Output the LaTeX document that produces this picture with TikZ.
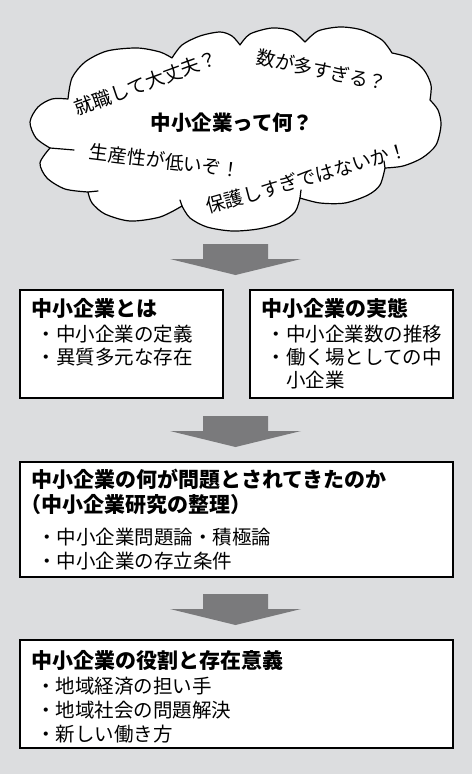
\documentclass[tikz,border=0pt]{standalone}
\usepackage{fontspec}
\newfontfamily\jpfont{Noto Sans CJK JP}
\usetikzlibrary{positioning, calc}
\definecolor{bggray}{HTML}{DCDDDF}
\definecolor{arrowgray}{HTML}{7A7A7C}
\tikzset{
  infobox/.style={draw=black, line width=1.8bp, fill=white, anchor=north west, inner sep=0pt},
  boxtitle/.style={anchor=west, inner sep=0pt, font=\jpfont\bfseries\fontsize{21bp}{25bp}\selectfont},
  boxitem/.style={anchor=west, inner sep=0pt, font=\jpfont\fontsize{19.5bp}{24bp}\selectfont},
  cloudtext/.style={inner sep=0pt, font=\jpfont\fontsize{19bp}{23bp}\selectfont},
  cloudline/.style={draw=black, line width=1.2bp, line join=round, line cap=round}
}
\begin{document}
\begin{tikzpicture}[x=1bp, y=1bp]
% Background, fixes the page size
\fill[bggray] (0,0) rectangle (472,-774);
\useasboundingbox (0,0) rectangle (472,-774);
% Cloud — one smooth bump between each pair of junctions
\filldraw[cloudline, fill=white]
  plot[smooth] coordinates {(50,-148) (36,-138) (30,-122) (38,-107) (52,-99) (68,-99)}
  -- plot[smooth] coordinates {(68,-99) (72,-78) (85,-62) (107,-51) (137,-48) (160,-52) (172,-58)}
  -- plot[smooth] coordinates {(172,-58) (182,-45) (200,-36) (220,-32) (232,-36) (240,-45)}
  -- plot[smooth] coordinates {(240,-45) (250,-34) (272,-28) (292,-31) (305,-42)}
  -- plot[smooth] coordinates {(305,-42) (318,-31) (340,-27) (362,-30) (382,-40) (392,-53)}
  -- plot[smooth] coordinates {(392,-53) (410,-58) (424,-70) (431,-85) (430,-100)}
  -- plot[smooth] coordinates {(430,-100) (438,-110) (441,-125) (436,-145) (422,-158) (403,-166) (385,-168)}
  -- plot[smooth] coordinates {(385,-168) (380,-185) (368,-195) (345,-203) (320,-203) (300,-198)}
  -- plot[smooth] coordinates {(300,-198) (295,-212) (280,-223) (258,-229) (232,-231) (207,-227) (190,-218) (182,-206)}
  -- plot[smooth] coordinates {(182,-206) (160,-217) (130,-221) (105,-214) (92,-203) (88,-192)}
  -- plot[smooth] coordinates {(88,-192) (65,-189) (47,-178) (40,-163) (50,-148)}
  -- cycle;
% small tails where the bumps meet
\draw[cloudline] (50,-148) -- (74,-150);
\draw[cloudline] (88,-192) -- (98,-191);
\draw[cloudline] (182,-206) -- (180,-200);
\draw[cloudline] (300,-198) -- (301,-190);
\draw[cloudline] (385,-168) -- (384,-161);
% Cloud texts
\node[cloudtext, rotate=20] (qjob) at (146,-83) {就職して大丈夫？};
\node[cloudtext, rotate=-12] (qnum) at (322,-70) {数が多すぎる？};
\node[cloudtext, font=\jpfont\bfseries\fontsize{20.5bp}{24bp}\selectfont] (qwhat) at (232,-123) {中小企業って何？};
\node[cloudtext, rotate=-7] (qprod) at (165,-161) {生産性が低いぞ！};
\node[cloudtext, rotate=16] (qprot) at (307,-178) {保護しすぎではないか！};
% Block arrows
\foreach \ytop in {244,416,594} {
  \fill[arrowgray] (203,-\ytop) -- (268,-\ytop) -- (268,-\ytop-15) -- (301,-\ytop-15)
    -- (235.5,-\ytop-31) -- (170,-\ytop-15) -- (203,-\ytop-15) -- cycle;
}
% Boxes
\node[infobox, minimum width=203bp, minimum height=108bp] (teigi) at (19,-289) {};
\node[infobox, minimum width=203bp, minimum height=108bp] (jittai) at (249,-289) {};
\node[infobox, minimum width=433bp, minimum height=115bp] (mondai) at (19,-461) {};
\node[infobox, minimum width=433bp, minimum height=108bp] (yakuwari) at (19,-639) {};
% Box texts
\node[boxtitle] (teigiT) at (31,-308) {中小企業とは};
\node[boxitem] (teigi1) at (36.5,-334.5) {・中小企業の定義};
\node[boxitem] (teigi2) at (36.5,-357.5) {・異質多元な存在};
\node[boxtitle] (jittaiT) at (261,-308) {中小企業の実態};
\node[boxitem] (jittai1) at (266.5,-334.5) {・中小企業数の推移};
\node[boxitem] (jittai2) at (266.5,-357.5) {・働く場としての中};
\node[boxitem] (jittai3) at (286,-380.5) {小企業};
\node[boxtitle] (mondaiT) at (31,-479) {中小企業の何が問題とされてきたのか};
\node[boxtitle] (mondaiS) at (20.5,-505) {（中小企業研究の整理）};
\node[boxitem] (mondai1) at (37,-537.5) {・中小企業問題論・積極論};
\node[boxitem] (mondai2) at (37,-561) {・中小企業の存立条件};
\node[boxtitle] (yakuwariT) at (31,-661) {中小企業の役割と存在意義};
\node[boxitem] (yakuwari1) at (36,-686) {・地域経済の担い手};
\node[boxitem] (yakuwari2) at (36,-710.5) {・地域社会の問題解決};
\node[boxitem] (yakuwari3) at (36,-734.5) {・新しい働き方};
\end{tikzpicture}
\end{document}
